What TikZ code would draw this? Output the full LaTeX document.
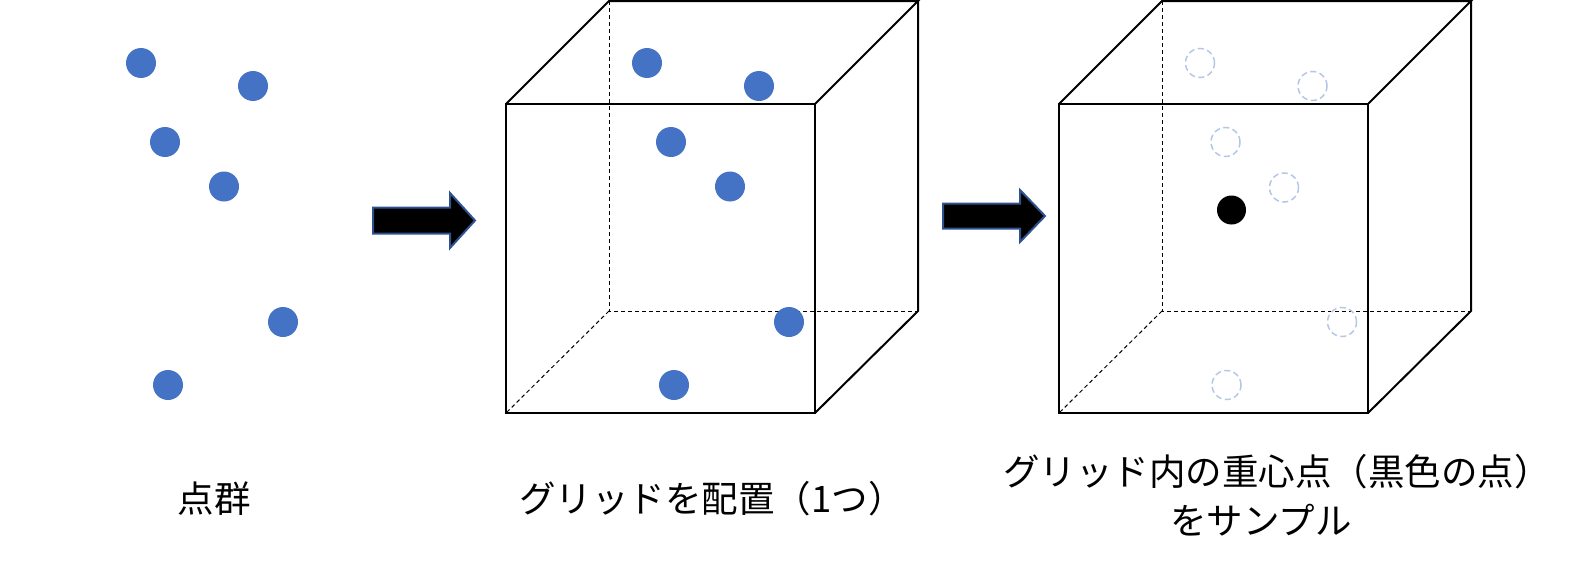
\documentclass[tikz,border=0pt]{standalone}
\usepackage{fontspec}
\newfontfamily\jp{Noto Sans CJK JP}
\definecolor{dotblue}{HTML}{4472C4}
\definecolor{palebl}{HTML}{B4C7E7}
\definecolor{arrowedge}{HTML}{2F528F}
\begin{document}
\begin{tikzpicture}[x=1pt,y=-1pt,
  dotc/.style={circle,fill=dotblue,draw=none,minimum size=30pt,inner sep=0pt},
  ghost/.style={circle,draw=palebl,line width=1.5pt,dash pattern=on 6pt off 3.5pt,minimum size=29pt,inner sep=0pt},
  blackdot/.style={circle,fill=black,minimum size=29pt,inner sep=0pt},
  edge/.style={line width=2pt,line join=miter},
  hidden/.style={line width=1pt,dash pattern=on 4pt off 3pt},
  bigarrow/.style={fill=black,draw=arrowedge,line width=2pt,line join=miter},
  lab/.style={font=\jp\fontsize{36.5}{48}\selectfont,inner sep=0pt}]
\useasboundingbox (0,0) rectangle (1590,570);
% left point cloud
\foreach \n/\x/\y in {a/141/63,b/253/86,c/165/142,d/224/186.5,e/283/322,f/168/385}
  \node[dotc] (l\n) at (\x,\y) {};
% cube drawing
\def\cube#1{%
  \begin{scope}[xshift=#1]
  \draw[hidden] (609,1) -- (609,311) -- (918,311);
  \draw[hidden] (609,311) -- (506,413);
  \draw[edge] (506,104) rectangle (815,413);
  \draw[edge] (506,104) -- (609,1) -- (918,1) -- (815,104);
  \draw[edge] (918,1) -- (918,311) -- (815,413);
  \end{scope}}
\cube{0pt}
\foreach \n/\x/\y in {a/647/63,b/759/86,c/671/142,d/730/186.5,e/789/322,f/674/385}
  \node[dotc] (m\n) at (\x,\y) {};
\cube{553pt}
\foreach \n/\x/\y in {a/1200/63,b/1312.5/86,c/1225.5/142,d/1284/187.5,e/1342/322,f/1226.5/385}
  \node[ghost] (r\n) at (\x,\y) {};
\node[blackdot] (g) at (1231.5,210) {};
% arrows
\draw[bigarrow] (373,207.5) -- (450,207.5) -- (450,193) -- (475,220.5) -- (450,248) -- (450,233.5) -- (373,233.5) -- cycle;
\draw[bigarrow] (943,203.5) -- (1020,203.5) -- (1020,190) -- (1045,216) -- (1020,242) -- (1020,228.5) -- (943,228.5) -- cycle;
% labels
\node[lab] (t1) at (214,499) {点群};
\node[lab] (t2) at (712,499) {グリッドを配置（1つ）};
\node[lab] (t3a) at (1277,472) {グリッド内の重心点（黒色の点）};
\node[lab] (t3b) at (1261,520) {をサンプル};
\end{tikzpicture}
\end{document}
